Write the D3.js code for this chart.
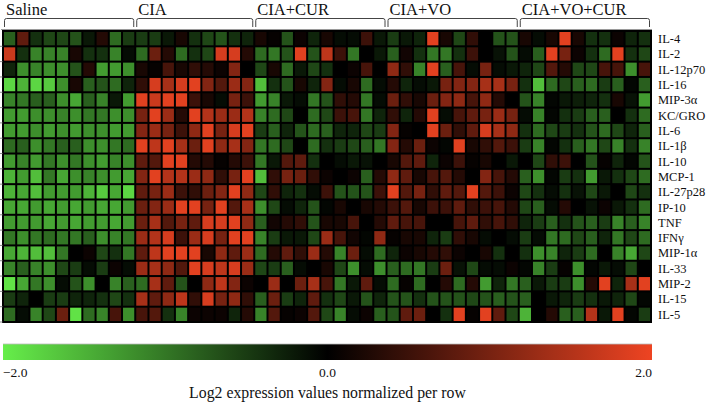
<!DOCTYPE html>
<html><head><meta charset="utf-8">
<script src="https://cdn.jsdelivr.net/npm/d3@7"></script>
<style>body{margin:0;background:#fff;} svg{display:block;font-family:"Liberation Serif","Times New Roman",serif;}</style>
</head><body><svg id="chart" width="709" height="404"></svg>
<script>
const groups = ["Saline","CIA","CIA+CUR","CIA+VO","CIA+VO+CUR"];
const groupSizes = [10,9,10,10,10];
const cytokines = ["IL-4","IL-2","IL-12p70","IL-16","MIP-3α","KC/GRO","IL-6","IL-1β","IL-10","MCP-1","IL-27p28","IP-10","TNF","IFNγ","MIP-1α","IL-33","MIP-2","IL-15","IL-5"];
const legendTicks = [-2, 0, 2];
const legendTitle = "Log2 expression values normalized per row";
// values per row: Saline(10) | CIA(9) | CIA+CUR(10) | CIA+VO(10) | CIA+VO+CUR(10)
const values = [
 [-0.8,0.8,-0.4,-0.6,-0.6,-0.7,-0.2,0.3,-0.9,-0.5, -0.5,-0.5,-0.2,0.2,-0.4,-0.6,-0.7,-0.4,-0.3, 0.2,0.05,-0.7,0.1,-0.3,0.2,-0.1,-0.1,0.5,-0.2, -0.5,-0.2,-0.3,1.9,0.2,-0.6,0.4,0.0,-0.7,-0.7, 0.2,-0.1,0.2,1.9,0.2,-0.4,-0.4,0.1,-0.3,-0.4],
 [1.7,-0.4,-1.1,-1.1,-1.1,0.2,-0.4,-0.4,-1.1,-0.1, -0.9,0.9,0.3,-0.9,-0.4,-0.6,1.8,1.8,0.3, -0.9,-1.0,-0.7,1.9,-0.7,1.6,0.5,-1.0,0.0,-0.2, -0.8,0.15,-0.4,-1.0,-1.0,-0.4,0.5,0.0,-0.15,-0.7, -0.1,-0.8,1.9,1.0,0.1,-0.4,-0.9,1.9,-0.4,-0.6],
 [-0.3,-1.2,-1.1,-1.2,-1.2,-0.7,0.3,-1.3,-1.3,-1.2, 0.2,0.05,0.6,0.2,0.4,0.3,0.1,1.1,0.0, -0.6,0.2,-0.9,-0.2,-0.6,-0.4,0.0,0.1,0.6,0.0, 1.2,0.4,-1.1,1.9,-0.8,0.6,-0.1,1.0,-0.1,-0.2, -0.3,-0.6,0.7,0.3,-0.6,-0.6,0.6,0.6,-1.2,0.6],
 [-1.8,-1.5,-1.8,-1.7,-1.2,0.2,-0.8,-0.7,-0.9,-0.3, 0.4,1.8,1.4,1.8,1.9,1.1,0.7,1.3,1.1, -1.6,-0.4,-0.7,0.2,-0.3,1.1,-0.1,0.2,-0.9,-0.1, 0.3,-0.3,-0.1,-0.2,1.0,1.1,1.1,1.4,1.4,1.0, -0.4,-1.6,-0.9,-0.6,-0.8,-0.9,-0.5,-0.8,-0.05,-0.8],
 [-1.1,-1.0,-0.8,-0.8,-1.2,-1.4,-0.8,-1.1,-0.2,-1.3, 1.9,1.7,1.9,1.9,0.5,0.2,-0.1,1.0,0.5, -1.3,-1.1,-0.2,-0.1,-1.0,-0.7,0.4,0.3,-1.0,-0.1, 0.9,0.4,0.2,0.9,1.1,1.2,0.6,1.2,0.3,0.0, -0.7,-1.1,-0.05,-0.2,-0.25,-0.3,-0.4,0.2,-0.15,-1.3],
 [-1.3,-1.3,-1.2,-1.2,-1.1,-1.2,-1.0,-1.0,-1.2,-1.2, 1.0,1.9,1.3,0.3,1.9,1.5,1.3,1.3,1.5, -1.1,-0.9,-0.6,0.0,-0.9,-0.6,0.5,0.6,-1.0,-0.3, 0.4,-0.3,0.3,1.9,-0.1,0.6,0.8,1.0,1.3,1.0, -0.1,-1.1,-0.05,-0.4,-0.5,-0.8,-0.8,0.0,-0.4,-0.9],
 [-1.3,-1.3,-1.2,-1.3,-1.2,-1.3,-1.2,-1.2,-1.3,-1.3, 1.1,1.3,1.0,0.5,1.2,1.9,1.0,1.8,1.9, -0.5,-0.8,-0.3,-0.7,-0.9,-0.8,-0.3,-0.3,-0.6,-0.5, 1.1,0.05,0.0,1.9,0.9,0.4,0.8,1.8,1.4,1.2, -0.4,-0.9,-0.6,-0.5,-0.4,-0.7,-0.9,-0.6,-0.3,-0.8],
 [-0.9,-0.8,-1.2,-1.0,-0.8,-0.8,-1.2,-1.2,-1.0,-0.9, 1.9,1.6,1.9,1.4,0.9,1.9,1.2,1.4,1.1, -1.0,-0.9,-0.6,0.0,-0.9,-0.4,-0.5,-0.6,-0.8,-1.0, 1.1,0.3,0.9,0.1,-0.05,1.9,0.2,0.4,0.7,0.5, -0.5,-1.1,-0.05,-0.4,-0.8,-1.0,-0.6,-1.1,-0.4,-1.1],
 [-1.3,-1.1,-1.3,-1.0,-1.2,-1.0,-1.2,-1.3,-1.1,-1.2, 0.8,0.7,1.9,1.9,0.3,0.3,0.05,0.3,0.5, -1.0,-0.2,0.7,0.8,-0.4,0.0,-0.1,-0.2,-0.15,0.0, 0.2,0.7,0.8,-0.3,0.1,0.5,0.05,0.2,0.0,-0.2, 0.0,-0.6,0.4,0.5,0.0,-0.7,0.05,-0.3,-0.05,-0.7],
 [-1.5,-1.3,-1.6,-1.0,-1.4,-1.2,-1.1,-1.2,-1.3,-1.4, 1.1,1.9,1.5,1.5,1.3,1.2,0.4,1.0,1.9, -1.6,0.4,1.0,0.9,0.4,0.1,0.0,0.1,-0.8,0.3, 1.2,0.8,0.2,0.6,0.7,0.3,0.0,1.1,0.6,0.3, -0.8,-1.2,-0.05,-0.5,-0.4,-1.3,-0.2,-0.4,-0.6,-0.9],
 [-1.5,-1.4,-1.6,-1.3,-1.3,-1.3,-1.5,-1.7,-1.4,-1.8, 0.8,1.0,1.3,0.5,0.4,0.9,1.1,1.9,1.2, -0.6,0.4,-0.3,-0.4,-0.1,0.5,-0.7,-0.7,-0.7,0.5, 1.9,0.7,1.0,0.4,0.8,0.7,1.9,0.7,0.5,0.1, -0.6,-0.4,-0.1,-0.4,-0.15,-0.6,-0.2,0.0,-0.6,-0.4],
 [-1.4,-1.4,-1.3,-1.4,-1.3,-1.4,-1.3,-1.4,-1.4,-1.3, 0.9,1.1,1.3,1.9,1.9,1.0,1.9,0.7,1.4, -1.2,-0.6,-0.1,-0.3,-0.7,-0.05,0.2,0.0,0.2,0.3, 0.5,0.7,0.2,0.5,0.5,0.8,0.4,0.5,0.6,0.3, -0.6,-0.8,-0.1,0.3,0.0,-0.15,0.1,-0.2,-0.4,-0.9],
 [-1.3,-1.3,-1.3,-1.4,-1.3,-1.4,-1.3,-1.3,-1.4,-1.3, 0.9,1.4,0.7,1.0,0.8,1.8,1.8,1.9,1.2, -0.8,0.15,0.3,0.4,-0.7,0.2,0.2,0.6,0.0,0.3, 0.8,0.6,0.6,0.0,0.0,0.6,0.8,0.4,0.6,0.4, -0.3,-0.5,-0.8,-0.4,-0.7,-0.8,-0.5,-1.1,-0.8,-1.1],
 [-1.0,-1.2,-1.0,-0.9,-1.0,-1.0,-0.8,-1.2,-1.1,-1.0, 1.3,1.5,1.8,0.5,1.3,1.8,1.0,1.9,1.9, -1.1,-0.5,-0.2,-0.2,-0.6,1.3,0.6,0.15,-0.05,1.2, 0.05,0.2,0.2,-0.3,-0.5,0.4,0.2,-0.1,0.0,-0.1, -0.5,-0.1,-1.0,-0.9,-0.6,-0.8,-0.3,-1.0,-0.6,-0.9],
 [-1.4,-1.5,-1.6,-1.6,-1.0,0.0,0.1,-0.6,-0.4,-1.0, 0.8,1.6,1.9,1.9,1.9,0.2,1.2,0.8,1.3, -0.9,0.3,0.8,0.4,1.3,0.3,-1.1,0.9,-0.1,-0.9, -0.3,0.1,0.2,0.3,0.4,0.1,0.0,0.2,-0.4,0.0, -0.4,-1.2,-1.1,-0.3,-0.5,-0.9,0.0,-1.1,-1.4,-0.6],
 [-1.1,-0.8,-1.1,-1.2,-0.6,-0.5,-0.1,-0.5,0.1,-0.1, 1.3,1.4,1.2,0.7,1.9,1.8,1.6,1.8,1.3, -0.6,-0.5,-0.8,-0.1,0.0,0.2,-0.6,-1.2,-0.1,-1.2, -0.8,-0.9,-1.0,-0.5,0.9,-0.15,-0.6,-0.1,-0.1,0.1, -0.05,-1.1,-0.5,0.05,-1.2,-0.05,-0.2,-0.1,-0.6,0.0],
 [-1.9,-1.4,-1.0,-1.2,-0.1,-0.7,-1.2,0.0,-1.1,-0.8, -0.9,1.4,0.8,-0.7,0.0,1.2,1.6,1.1,0.1, 0.0,1.3,0.0,0.9,1.4,0.6,-1.0,-0.2,0.8,-0.1, -0.9,0.05,-0.9,0.0,0.3,-0.9,0.3,-1.3,-0.3,-1.0, -0.8,-0.2,-0.5,-0.5,-1.2,0.3,1.9,-0.3,1.4,1.9],
 [-0.5,-0.3,0.0,-0.5,-0.5,-0.3,-0.3,-0.4,-0.6,-0.4, 1.4,0.8,1.2,1.6,0.4,1.8,1.0,1.2,0.4, -0.8,0.9,-0.5,-0.3,0.8,-0.4,-0.6,-0.2,-0.7,-0.3, -0.7,-0.7,-0.4,-0.7,-0.7,-0.7,-0.6,-0.7,-0.8,-0.7, -0.8,0.0,-0.2,-0.3,-0.5,-0.4,-0.2,-0.3,-0.6,-0.05],
 [-0.9,-0.1,-1.1,-0.6,0.9,-1.9,-0.9,-1.1,0.6,-1.2, 0.6,0.7,-0.4,-1.1,0.1,0.1,0.1,-0.3,0.3, -1.1,0.7,0.05,0.1,0.7,-0.6,-1.1,-0.1,0.1,-0.8, -0.7,0.8,0.9,0.0,-0.4,1.9,0.05,1.9,0.8,-0.6, -1.5,0.0,0.3,-0.8,-0.8,1.5,-0.2,1.9,-0.05,-0.5]
];

const svg = d3.select("#chart");
const nCols = d3.sum(groupSizes);
const colIdx = d3.range(nCols);
const x = d3.scaleBand().domain(colIdx).range([3, 651]);
const y = d3.scaleBand().domain(cytokines).range([31, 322]);
const color = d3.scaleLinear().domain([-2, 0, 2]).range(["#66ee4a", "#000000", "#ee4422"]).clamp(true);

// background (grid gaps)
svg.append("rect").attr("x", 2).attr("y", 30).attr("width", 650).attr("height", 293).attr("fill", "#000");
svg.append("line").attr("x1", 1).attr("x2", 652).attr("y1", 29.5).attr("y2", 29.5).attr("stroke", "#9a9a9a");

const cells = [];
values.forEach((row, r) => row.forEach((v, c) => cells.push({r: cytokines[r], c, v})));
svg.append("g").selectAll("rect").data(cells).join("rect")
  .attr("x", d => x(d.c) + 1)
  .attr("y", d => y(d.r) + 1)
  .attr("width", x.bandwidth() - 2)
  .attr("height", y.bandwidth() - 2)
  .attr("fill", d => color(d.v));

// left tick marks
svg.append("g").selectAll("line").data(cytokines).join("line")
  .attr("x1", 0).attr("x2", 2.5)
  .attr("y1", d => y(d) + y.bandwidth()).attr("y2", d => y(d) + y.bandwidth())
  .attr("stroke", "#888");

// row labels
svg.append("g").selectAll("text").data(cytokines).join("text")
  .attr("x", 658).attr("y", d => y(d) + y.bandwidth() / 2)
  .attr("dy", "0.35em").attr("font-size", 12.5).attr("fill", "#111")
  .text(d => d);

// group brackets + labels
let start = 0;
const gInfo = groups.map((g, i) => { const s = start; start += groupSizes[i]; return {g, s, e: start}; });
const gg = svg.append("g").selectAll("g").data(gInfo).join("g");
gg.append("path")
  .attr("d", d => {
    const x0 = x(d.s) + 1.5, x1 = x(d.e - 1) + x.bandwidth() - 1.5;
    return `M${x0},27 L${x0},20.5 Q${x0},18.5 ${x0 + 2},18.5 L${x1 - 2},18.5 Q${x1},18.5 ${x1},20.5 L${x1},27`;
  })
  .attr("fill", "none").attr("stroke", "#444").attr("stroke-width", 1);
gg.append("text")
  .attr("x", d => x(d.s) + 3).attr("y", 15)
  .attr("font-size", 16.5).attr("fill", "#111")
  .text(d => d.g);

// legend
const defs = svg.append("defs");
const grad = defs.append("linearGradient").attr("id", "lg");
d3.range(0, 1.0001, 0.05).forEach(t => grad.append("stop").attr("offset", t).attr("stop-color", color(-2 + 4 * t)));
const lx = d3.scaleLinear().domain([-2, 2]).range([3, 652]);
svg.append("rect").attr("x", lx(-2)).attr("y", 344).attr("width", lx(2) - lx(-2)).attr("height", 16).attr("fill", "url(#lg)");
svg.append("line").attr("x1", lx(-2)).attr("x2", lx(2)).attr("y1", 344).attr("y2", 344).attr("stroke", "#bbb").attr("stroke-width", 0.8);
svg.append("g").selectAll("text").data(legendTicks).join("text")
  .attr("x", d => lx(d))
  .attr("y", 377)
  .attr("text-anchor", (d, i) => i === 0 ? "start" : (i === legendTicks.length - 1 ? "end" : "middle"))
  .attr("font-size", 13.5).attr("fill", "#111")
  .text(d => d3.format(".1f")(d).replace("-", "−"));
svg.append("text").attr("x", lx(0)).attr("y", 398).attr("text-anchor", "middle")
  .attr("font-size", 15.8).attr("fill", "#111").text(legendTitle);
</script></body></html>
